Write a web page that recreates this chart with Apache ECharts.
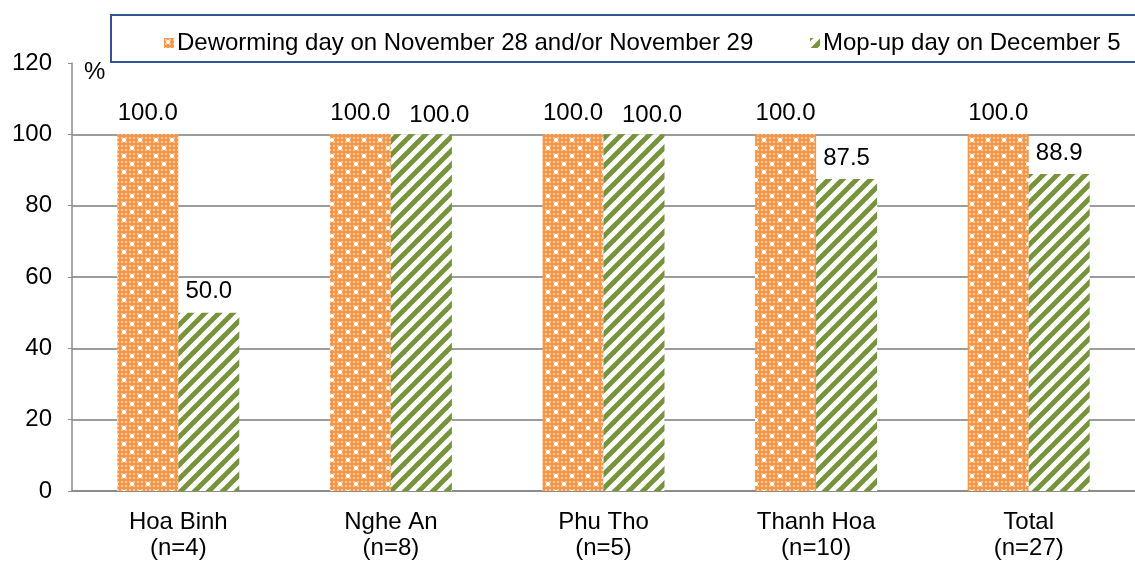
<!DOCTYPE html>
<html>
<head>
<meta charset="utf-8">
<script src="https://cdn.jsdelivr.net/npm/echarts@6/dist/echarts.min.js"></script>
<style>
  html, body { margin: 0; padding: 0; background: #fff; }
  #chart { width: 1135px; height: 561px; }
</style>
</head>
<body>
<div id="chart"></div>
<script>
// data
var categories = ['Hoa Binh\n(n=4)', 'Nghe An\n(n=8)', 'Phu Tho\n(n=5)', 'Thanh Hoa\n(n=10)', 'Total\n(n=27)'];
var dewormingDay = [100.0, 100.0, 100.0, 100.0, 100.0];
var mopUpDay = [50.0, 100.0, 100.0, 87.5, 88.9];
var seriesNames = ['Deworming day on November 28 and/or November 29', 'Mop-up day on December 5'];
var yTicks = { min: 0, max: 120, interval: 20 };

// orange dotted fill
function dotPattern() {
  var c = document.createElement('canvas');
  c.width = 16; c.height = 16;
  var g = c.getContext('2d');
  g.fillStyle = '#f79646';
  g.fillRect(0, 0, 16, 16);
  g.fillStyle = '#fbc9a2';
  for (var x = 0; x < 16; x += 4) {
    for (var y = 0; y < 16; y += 4) {
      g.fillRect(x + 1, y + 1, 2, 2);
    }
  }
  g.fillStyle = '#ffffff';
  [[4, 4], [12, 12]].forEach(function (p) {
    g.fillRect(p[0] - 1, p[1] - 2, 2, 4);
    g.fillRect(p[0] - 2, p[1] - 1, 4, 2);
  });
  return c;
}

// green diagonal stripes
function stripePattern() {
  var c = document.createElement('canvas');
  c.width = 14; c.height = 14;
  var g = c.getContext('2d');
  g.fillStyle = '#ffffff';
  g.fillRect(0, 0, 14, 14);
  g.strokeStyle = '#77933c';
  g.lineWidth = 5;
  [-14, 0, 14].forEach(function (o) {
    g.beginPath();
    g.moveTo(o - 2, 16);
    g.lineTo(o + 16, -2);
    g.stroke();
  });
  return c;
}

var font = '"Liberation Sans", Arial, sans-serif';
var fs = 24;

var chart = echarts.init(document.getElementById('chart'));

var labelStyle = {
  show: true,
  position: 'top',
  distance: 9,
  color: '#000',
  fontSize: fs,
  fontFamily: font,
  formatter: function (p) { return p.value.toFixed(1); }
};

// green labels that would collide with the orange one next to them get nudged right
var mopUpItems = mopUpDay.map(function (v, i) {
  if (v === dewormingDay[i]) return { value: v, label: { offset: [18, 2] } };
  return v;
});

function legendAt(left, name) {
  return {
    top: 26,
    left: left,
    itemWidth: 10,
    itemHeight: 10,
    icon: 'rect',
    textStyle: { fontSize: fs, fontFamily: font, color: '#000', padding: [0, 0, 0, -2] },
    data: [name]
  };
}

chart.setOption({
  animation: false,
  textStyle: { fontFamily: font },
  graphic: [
    {
      type: 'rect',
      shape: { x: 111, y: 15, width: 1100, height: 47 },
      style: { fill: 'none', stroke: '#2f5597', lineWidth: 2 },
      z: 10
    },
    {
      type: 'text',
      left: 84, top: 60,
      style: { text: '%', fontSize: fs, fontFamily: font, fill: '#000' }
    }
  ],
  legend: [legendAt(159, seriesNames[0]), legendAt(805, seriesNames[1])],
  grid: { left: 72, top: 63, width: 1067, bottom: 69, containLabel: false },
  xAxis: {
    type: 'category',
    data: categories,
    axisLine: { lineStyle: { color: '#8c8c8c', width: 2 } },
    axisTick: { show: false },
    axisLabel: { color: '#000', fontSize: fs, fontFamily: font, lineHeight: 26, margin: 18 }
  },
  yAxis: {
    type: 'value',
    min: yTicks.min,
    max: yTicks.max,
    interval: yTicks.interval,
    axisLine: { show: true, lineStyle: { color: '#8c8c8c', width: 1.5 } },
    axisTick: { show: true, length: 4, lineStyle: { color: '#8c8c8c' } },
    axisLabel: { color: '#000', fontSize: fs, fontFamily: font, margin: 20 },
    splitLine: { show: true, showMaxLine: false, lineStyle: { color: '#9c9c9c', width: 2 } }
  },
  series: [
    {
      name: seriesNames[0],
      type: 'bar',
      data: dewormingDay,
      barWidth: 61,
      barGap: '0%',
      itemStyle: { color: { image: dotPattern(), repeat: 'repeat' } },
      label: labelStyle
    },
    {
      name: seriesNames[1],
      type: 'bar',
      data: mopUpItems,
      barWidth: 61,
      itemStyle: { color: { image: stripePattern(), repeat: 'repeat' } },
      label: labelStyle
    }
  ]
});
</script>
</body>
</html>
